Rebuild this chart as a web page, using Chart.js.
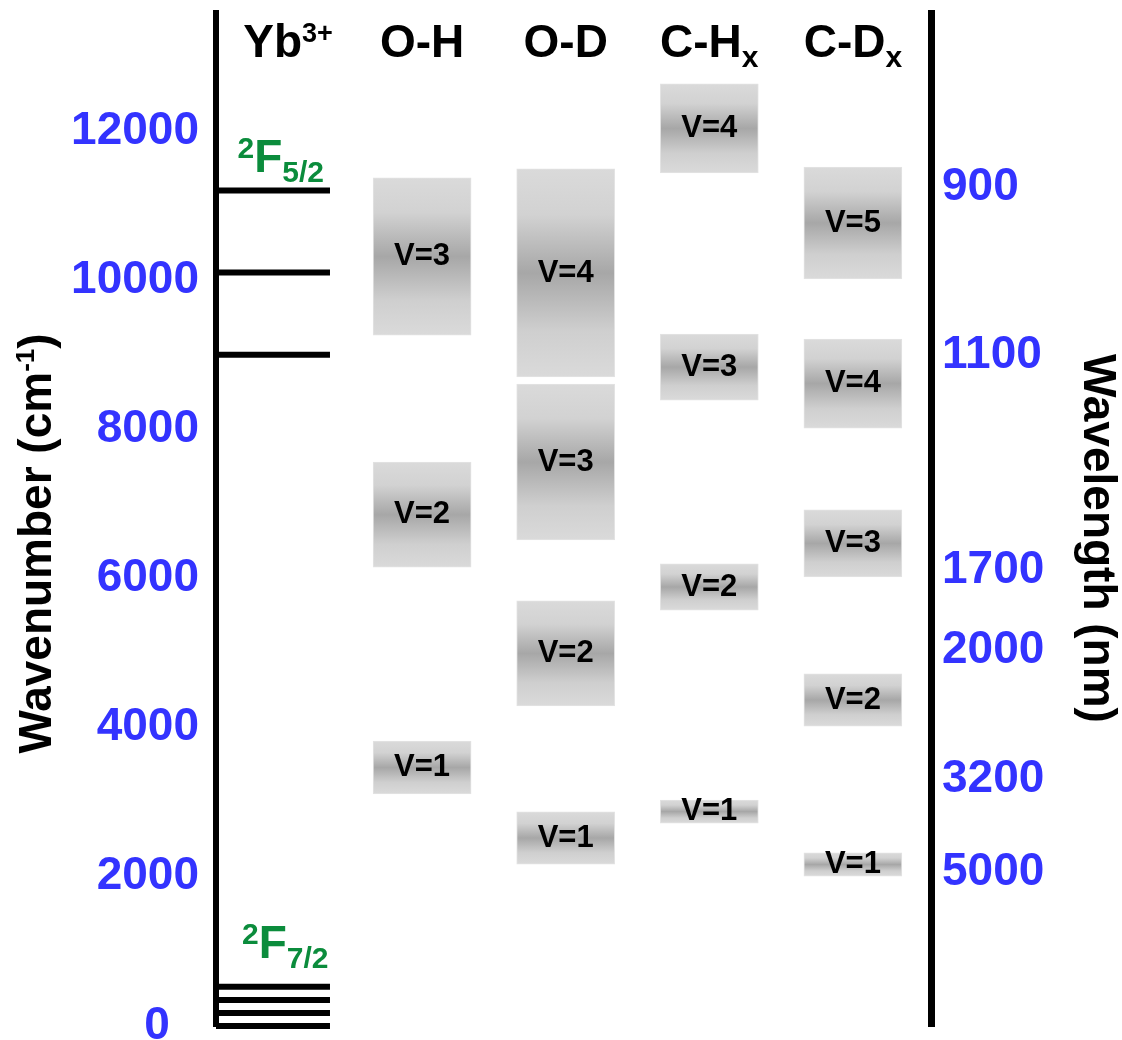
<!DOCTYPE html>
<html>
<head>
<meta charset="utf-8">
<script src="https://cdn.jsdelivr.net/npm/chart.js@4.4.1/dist/chart.umd.min.js"></script>
<style>
  html, body { margin: 0; padding: 0; background: #ffffff; }
  #wrap { width: 1122px; height: 1040px; position: relative; }
</style>
</head>
<body>
<div id="wrap"><canvas id="c" width="1122" height="1040"></canvas></div>
<script>
// ---------------- data ----------------
const columns = ['Yb^{3+}', 'O-H', 'O-D', 'C-H_{x}', 'C-D_{x}'];
const ybUpperLevels = [9000, 10100, 11200];       // 2F5/2 manifold (cm-1)
const ybLowerLevels = [0, 175, 350, 525];         // 2F7/2 manifold (cm-1)
const ybStateNames = ['^{2}F_{5/2}', '^{2}F_{7/2}'];
const ohBands = [[3110, 3820], [6150, 7560], [9260, 11370]];
const odBands = [[2170, 2870], [4290, 5700], [6515, 8605], [8700, 11490]];
const chBands = [[2720, 3030], [5575, 6195], [8390, 9275], [11435, 12630]];
const cdBands = [[2010, 2320], [4020, 4720], [6020, 6920], [8015, 9210], [10015, 11515]];
const wavenumberTicks = [0, 2000, 4000, 6000, 8000, 10000, 12000];
const wavelengthLabels = ['900', '1100', '1700', '2000', '3200', '5000'];
const wavelengthTickPos = [11240, 8995, 6113, 5040, 3311, 2064];
const leftTitle = 'Wavenumber (cm^{-1})';
const rightTitle = 'Wavelength (nm)';

// ---------------- presentation ----------------
const FONT = '"Liberation Sans", Arial, Helvetica, sans-serif';
const BLUE = '#3333ff';
const GREEN = '#0b8c3c';
const X_MIN = -0.4352, X_MAX = 4.5439, YB_END = 0.3586;
const Y_MAX = 13580;

function parseRich(str, size, supSize, supDy, subSize, subDy) {
  const parts = [];
  const re = /(\^|_)\{([^}]*)\}|([^\^_]+)/g;
  let m;
  while ((m = re.exec(str))) {
    if (m[3]) parts.push({ text: m[3], size: size, dy: 0 });
    else if (m[1] === '^') parts.push({ text: m[2], size: supSize, dy: supDy });
    else parts.push({ text: m[2], size: subSize, dy: subDy });
  }
  return parts;
}
function drawRich(ctx, parts, x, y, align) {
  let total = 0;
  const ws = parts.map(p => {
    ctx.font = 'bold ' + p.size + 'px ' + FONT;
    const w = ctx.measureText(p.text).width;
    total += w;
    return w;
  });
  let cx = align === 'center' ? x - total / 2 : x;
  ctx.textAlign = 'left';
  ctx.textBaseline = 'alphabetic';
  parts.forEach((p, i) => {
    ctx.font = 'bold ' + p.size + 'px ' + FONT;
    ctx.fillText(p.text, cx, y + p.dy);
    cx += ws[i];
  });
}

function bandGradient(ctx) {
  if (ctx.type !== 'data' || !ctx.raw) return '#c4c4c4';
  const chart = ctx.chart;
  const ys = chart.scales.y;
  if (!ys || !chart.chartArea) return '#c4c4c4';
  const top = ys.getPixelForValue(ctx.raw.y[1]);
  const bot = ys.getPixelForValue(ctx.raw.y[0]);
  if (!isFinite(top) || !isFinite(bot) || top === bot) return '#c4c4c4';
  const g = chart.ctx.createLinearGradient(0, top, 0, bot);
  g.addColorStop(0, '#dadada');
  g.addColorStop(0.22, '#d2d2d2');
  g.addColorStop(0.5, '#a7a7a7');
  g.addColorStop(0.78, '#cfcfcf');
  g.addColorStop(1, '#dadada');
  return g;
}

const bandSets = [ohBands, odBands, chBands, cdBands];
const datasets = [];
ybUpperLevels.concat(ybLowerLevels).forEach(v => {
  datasets.push({
    type: 'line',
    data: [{ x: X_MIN, y: v }, { x: YB_END, y: v }],
    borderColor: '#000000',
    borderWidth: 6,
    pointRadius: 0,
    clip: false,
    order: 0
  });
});
bandSets.forEach((bands, j) => {
  datasets.push({
    type: 'bar',
    data: bands.map(b => ({ x: j + 1, y: b })),
    backgroundColor: bandGradient,
    borderColor: '#e3e3e3',
    borderWidth: 1,
    borderSkipped: false,
    barThickness: 98,
    grouped: false,
    order: 1
  });
});

const annotPlugin = {
  id: 'annot',
  afterDatasetsDraw(chart) {
    const ctx = chart.ctx;
    ctx.save();
    ctx.fillStyle = '#000000';
    ctx.font = 'bold 31px ' + FONT;
    ctx.textAlign = 'center';
    ctx.textBaseline = 'middle';
    chart.data.datasets.forEach((ds, i) => {
      if (ds.type !== 'bar') return;
      const meta = chart.getDatasetMeta(i);
      meta.data.forEach((el, k) => {
        ctx.fillText('V=' + (k + 1), el.x, (el.y + el.base) / 2);
      });
    });
    ctx.restore();
  },
  afterDraw(chart) {
    const ctx = chart.ctx;
    const xs = chart.scales.x, ys = chart.scales.y;
    const area = chart.chartArea;
    ctx.save();
    // the zero tick label sits further left in the reference
    ctx.fillStyle = BLUE;
    ctx.font = 'bold 46px ' + FONT;
    ctx.textAlign = 'center';
    ctx.textBaseline = 'middle';
    ctx.fillText(String(wavenumberTicks[0]), area.left - 59, ys.getPixelForValue(wavenumberTicks[0]));
    // column headers
    ctx.fillStyle = '#000000';
    columns.forEach((c, i) => {
      const parts = parseRich(c, 46, 27, -15, 30, 10);
      const dx = i === 0 ? 9.5 : 0;
      drawRich(ctx, parts, xs.getPixelForValue(i) + dx, area.top + 44, 'center');
    });
    // Yb state labels
    ctx.fillStyle = GREEN;
    drawRich(ctx, parseRich(ybStateNames[0], 46, 30, -14, 30, 10),
      area.left + 21.5, ys.getPixelForValue(Math.max(...ybUpperLevels)) - 18.5, 'left');
    drawRich(ctx, parseRich(ybStateNames[1], 46, 30, -14, 30, 10),
      area.left + 26, ys.getPixelForValue(Math.max(...ybLowerLevels)) - 29, 'left');
    // axis titles
    ctx.fillStyle = '#000000';
    ctx.save();
    ctx.translate(51, (area.top + area.bottom) / 2 + 24);
    ctx.rotate(-Math.PI / 2);
    drawRich(ctx, parseRich(leftTitle, 46, 26, -17, 26, 8), 0, 0, 'center');
    ctx.restore();
    ctx.save();
    ctx.translate(1084, (area.top + area.bottom) / 2 + 19);
    ctx.rotate(Math.PI / 2);
    drawRich(ctx, parseRich(rightTitle, 46, 26, -17, 26, 8), 0, 0, 'center');
    ctx.restore();
    ctx.restore();
  }
};

const tickFont = { family: FONT, size: 46, weight: 'bold', lineHeight: 0.5 };
function fitLeft(s) { s.width = 216; s.paddingTop = 0; s.paddingBottom = 0; s.paddingLeft = 0; s.paddingRight = 0; }
function fitRight(s) { s.width = 191; s.paddingTop = 0; s.paddingBottom = 0; s.paddingLeft = 0; s.paddingRight = 0; }

new Chart(document.getElementById('c'), {
  type: 'bar',
  data: { datasets: datasets },
  options: {
    responsive: false,
    maintainAspectRatio: false,
    animation: false,
    events: [],
    layout: { padding: { top: 13, bottom: 14, left: 0, right: 0 }, autoPadding: false },
    plugins: { legend: { display: false }, tooltip: { enabled: false }, title: { display: false } },
    scales: {
      x: { type: 'linear', display: false, min: X_MIN, max: X_MAX, offset: false, grid: { display: false } },
      y: {
        type: 'linear', position: 'left', min: 0, max: Y_MAX,
        afterBuildTicks: s => { s.ticks = wavenumberTicks.map(v => ({ value: v })); },
        afterFit: fitLeft,
        grid: { display: false, drawTicks: false },
        border: { display: true, color: '#000000', width: 6 },
        ticks: { autoSkip: false, padding: 17, color: BLUE, font: tickFont,
                 callback: v => (v === wavenumberTicks[0] ? '' : String(v)) }
      },
      y2: {
        type: 'linear', position: 'right', min: 0, max: Y_MAX,
        afterBuildTicks: s => { s.ticks = wavelengthTickPos.map(v => ({ value: v })); },
        afterFit: fitRight,
        grid: { display: false, drawTicks: false },
        border: { display: true, color: '#000000', width: 7 },
        ticks: { autoSkip: false, padding: 11, color: BLUE, font: tickFont, callback: (v, i) => wavelengthLabels[i] }
      }
    }
  },
  plugins: [annotPlugin]
});
</script>
</body>
</html>
